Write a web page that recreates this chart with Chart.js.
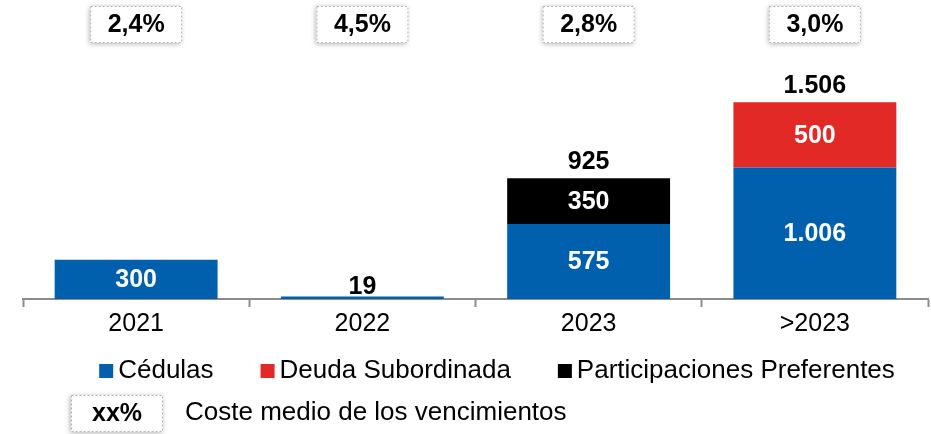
<!DOCTYPE html>
<html>
<head>
<meta charset="utf-8">
<script src="https://cdn.jsdelivr.net/npm/chart.js@4/dist/chart.umd.min.js"></script>
<style>
  html, body { margin: 0; padding: 0; background: #fff; }
  #wrap { width: 931px; height: 434px; position: relative; }
</style>
</head>
<body>
<div id="wrap"><canvas id="vencChart"></canvas></div>
<script>
// Datos del gráfico
const years = ['2021', '2022', '2023', '>2023'];
const cedulas = [300, 19, 575, 1006];
const deudaSub = [0, 0, 0, 500];
const preferentes = [0, 0, 350, 0];
const costeMedio = ['2,4%', '4,5%', '2,8%', '3,0%'];

const FONT = '"Liberation Sans", Arial, sans-serif';

// formato español con punto de miles (1.006)
function fmt(v) {
    return String(v).replace(/\B(?=(\d{3})+(?!\d))/g, '.');
}

function drawBox(ctx, cx, top, w, h, text) {
    const x = cx - w / 2;
    ctx.save();
    ctx.shadowColor = 'rgba(0,0,0,0.3)';
    ctx.shadowBlur = 5;
    ctx.shadowOffsetX = -1;
    ctx.shadowOffsetY = 1;
    ctx.fillStyle = '#fff';
    ctx.fillRect(x, top, w, h);
    ctx.restore();
    ctx.save();
    ctx.strokeStyle = '#b0b0b0';
    ctx.lineWidth = 1;
    ctx.setLineDash([2, 2]);
    ctx.strokeRect(x + 0.5, top + 0.5, w - 1, h - 1);
    ctx.restore();
    ctx.save();
    ctx.fillStyle = '#000';
    ctx.font = 'bold 25px ' + FONT;
    ctx.textAlign = 'center';
    ctx.textBaseline = 'middle';
    ctx.fillText(text, cx, top + h / 2 + 1);
    ctx.restore();
}

// etiquetas de valores, totales, leyenda y cajas de coste medio
const labelsPlugin = {
    id: 'labelsPlugin',
    afterDatasetsDraw(chart) {
        const ctx = chart.ctx;
        const xScale = chart.scales.x;
        const yScale = chart.scales.y;

        ctx.save();
        ctx.font = 'bold 25px ' + FONT;
        ctx.textAlign = 'center';

        years.forEach((yr, i) => {
            let total = 0;
            let segs = 0;
            let topY = yScale.getPixelForValue(0);
            chart.data.datasets.forEach((ds, d) => {
                const v = ds.data[i];
                if (!v) return;
                total += v;
                segs++;
                const bar = chart.getDatasetMeta(d).data[i];
                const h = bar.base - bar.y;
                topY = Math.min(topY, bar.y);
                if (h > 24) {
                    ctx.fillStyle = '#fff';
                    ctx.textBaseline = 'middle';
                    ctx.fillText(fmt(v), bar.x, bar.y + h / 2 + 1);
                } else {
                    ctx.fillStyle = '#000';
                    ctx.textBaseline = 'bottom';
                    ctx.fillText(fmt(v), bar.x, bar.y + 3);
                }
            });
            if (segs > 1) {
                ctx.fillStyle = '#000';
                ctx.textBaseline = 'bottom';
                ctx.fillText(fmt(total), xScale.getPixelForValue(i), topY - 4);
            }
        });
        ctx.restore();

        years.forEach((yr, i) => {
            drawBox(ctx, xScale.getPixelForValue(i), 6, 92, 37, costeMedio[i]);
        });

        // leyenda de series (centrada)
        ctx.save();
        ctx.font = '26px ' + FONT;
        ctx.textBaseline = 'middle';
        ctx.textAlign = 'left';
        const items = chart.data.datasets.map(ds => ({
            text: ds.label,
            color: ds.backgroundColor,
            w: 14 + 5 + ctx.measureText(ds.label).width
        }));
        const gap = 47;
        const totalW = items.reduce((a, it) => a + it.w, 0) + gap * (items.length - 1);
        let lx = 497 - totalW / 2;
        items.forEach(it => {
            ctx.fillStyle = it.color;
            ctx.fillRect(lx, 364, 14, 14);
            ctx.fillStyle = '#000';
            ctx.fillText(it.text, lx + 19, 371);
            lx += it.w + gap;
        });
        ctx.restore();

        // leyenda de la caja
        drawBox(ctx, 117, 395, 92, 37, 'xx%');
        ctx.save();
        ctx.fillStyle = '#000';
        ctx.font = '26px ' + FONT;
        ctx.textAlign = 'left';
        ctx.textBaseline = 'middle';
        ctx.fillText('Coste medio de los vencimientos', 185, 413);
        ctx.restore();
    }
};

const ctx = document.getElementById('vencChart');
new Chart(ctx, {
    type: 'bar',
    data: {
        labels: years,
        datasets: [
            {
                label: 'Cédulas',
                data: cedulas,
                backgroundColor: '#0060ad'
            },
            {
                label: 'Deuda Subordinada',
                data: deudaSub,
                backgroundColor: '#e32926'
            },
            {
                label: 'Participaciones Preferentes',
                data: preferentes,
                backgroundColor: '#000000'
            }
        ]
    },
    options: {
        responsive: true,
        maintainAspectRatio: false,
        animation: false,
        datasets: {
            bar: {
                categoryPercentage: 0.72,
                barPercentage: 1.0
            }
        },
        layout: {
            padding: { top: 60, left: 23, right: 3, bottom: 93 }
        },
        scales: {
            x: {
                stacked: true,
                offset: true,
                border: { color: '#8c8c8c', width: 2 },
                grid: {
                    offset: true,
                    drawOnChartArea: false,
                    drawTicks: true,
                    tickLength: 8,
                    tickWidth: 2,
                    color: '#8c8c8c'
                },
                ticks: {
                    color: '#000',
                    padding: 2,
                    font: { family: FONT, size: 25 }
                }
            },
            y: {
                stacked: true,
                display: false,
                min: 0,
                max: 1830
            }
        },
        plugins: {
            legend: { display: false },
            tooltip: { enabled: false }
        }
    },
    plugins: [labelsPlugin]
});
</script>
</body>
</html>
